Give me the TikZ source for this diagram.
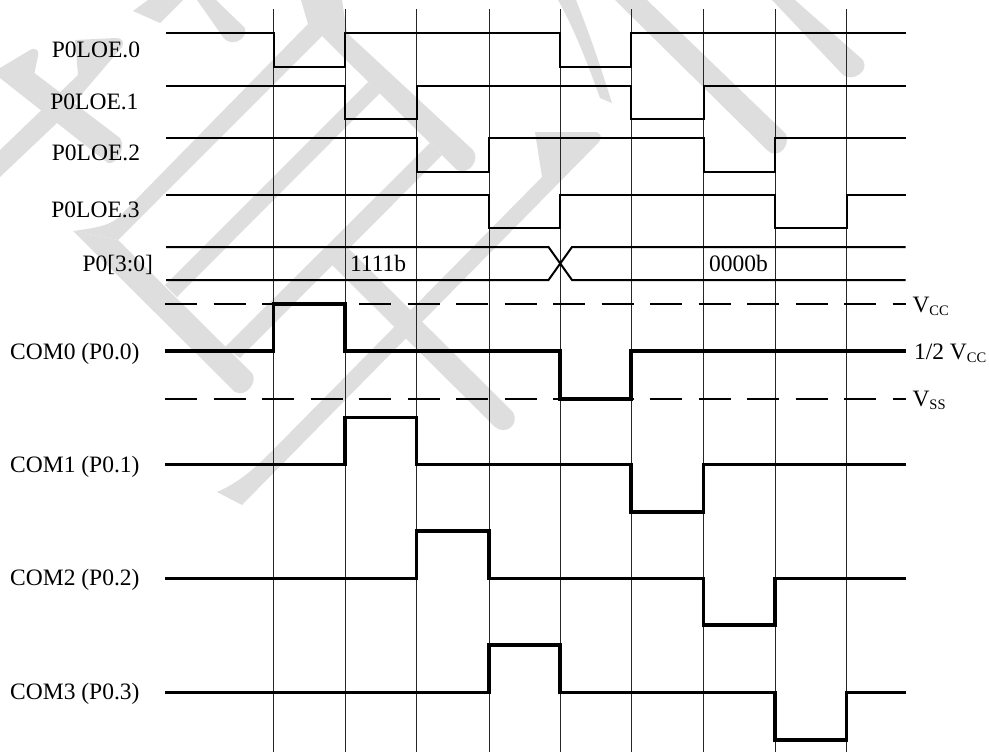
\documentclass[tikz,border=0pt]{standalone}
\usepackage{fontspec}
\setmainfont{Liberation Serif}
\definecolor{wm}{HTML}{DEDEDE}
\tikzset{
  grid line/.style={line width=1pt,black!85},
  logic/.style={line width=2pt,black,line join=miter},
  bus/.style={line width=2pt,black},
  com/.style={line width=3.5pt,black,line join=miter},
  rail/.style={line width=2pt,black,dash pattern=on 32pt off 16.5pt},
  lbl/.style={anchor=base west,inner sep=0pt,outer sep=0pt,font=\fontsize{23.5}{28}\selectfont},
  lblr/.style={anchor=base east,inner sep=0pt,outer sep=0pt,font=\fontsize{23.5}{28}\selectfont},
  mark wm/.style={fill=wm,draw=none}
}
\newcommand{\subs}[1]{\raisebox{-3.2pt}{\fontsize{14.5}{16}\selectfont #1}}
\begin{document}
\begin{tikzpicture}[x=1pt,y=-1pt]
\useasboundingbox (0,0) rectangle (989,753);
% watermark
\fill[mark wm] (0,68) -- (30,50) .. controls (36,47) and (39,50) .. (38,56) -- (34.5,73) -- (120,138) .. controls (126,146) and (118,165) .. (108,163) -- (57,123) -- (0,78) -- cycle;
\fill[mark wm] (75,40) -- (116,38) .. controls (122,38) and (125,42) .. (122,47) -- (57,123) -- (0,177) -- (0,150) -- (78,75) -- cycle;
\fill[mark wm] (133,11) -- (148,0) -- (183,0) -- (160,23) -- cycle;
\fill[mark wm] (197,0) -- (223,37) .. controls (230,48) and (248,40) .. (245,28) -- (216,0) -- cycle;
\fill[mark wm] (73,231) .. controls (95,228) and (108,226) .. (118,218) -- (308,24) -- (301,0) -- (342,0) -- (347,33) -- (473,150) .. controls (481,160) and (468,176) .. (457,170) -- (322,36) -- (118,240) -- cycle;
\fill[mark wm] (73,231) -- (118,240) -- (252,373) .. controls (258,381) and (247,398) .. (235,392) -- cycle;
\fill[mark wm] (368,82) -- (380,93) -- (177,297) -- (165,285) -- cycle;
\fill[mark wm] (430,143) -- (442,155) -- (240,358) -- (225,347) -- cycle;
\fill[mark wm] (332,265) -- (349,249) -- (513,412) .. controls (520,424) and (506,436) .. (495,427) -- cycle;
\fill[mark wm] (217,492) .. controls (240,482) and (255,468) .. (273,450) -- (542,177) -- (535,132) -- (594,132) .. controls (602,132) and (602,138) .. (599,142) -- (242,505) -- cycle;
\fill[mark wm] (558,0) .. controls (575,30) and (590,70) .. (600,98) -- (612,103) .. controls (600,65) and (590,35) .. (576,0) -- cycle;
\fill[mark wm] (615,0) -- (767,150) .. controls (776,160) and (791,148) .. (786,134) -- (647,0) -- cycle;
\fill[mark wm] (772,0) -- (843,75) .. controls (852,82) and (870,72) .. (863,60) -- (795,0) -- cycle;
% grid
\foreach \x in {273.5,345,416.5,489,560,631,703.5,775,846.5}
  \draw[grid line] (\x,9) -- (\x,752);
% logic signals
\draw[logic] (166,33.3) -- (273.5,33.3) -- (273.5,66.5) -- (345,66.5) -- (345,33.3) -- (560,33.3) -- (560,66.5) -- (631,66.5) -- (631,33.3) -- (905.5,33.3);
\draw[logic] (166,85.5) -- (345,85.5) -- (345,118.5) -- (416.5,118.5) -- (416.5,85.5) -- (631,85.5) -- (631,118.5) -- (703.5,118.5) -- (703.5,85.5) -- (905.5,85.5);
\draw[logic] (166,137.5) -- (416.5,137.5) -- (416.5,172) -- (489,172) -- (489,137.5) -- (703.5,137.5) -- (703.5,172) -- (775,172) -- (775,137.5) -- (905.5,137.5);
\draw[logic] (166,195) -- (489,195) -- (489,228) -- (560,228) -- (560,195) -- (775,195) -- (775,228) -- (846.5,228) -- (846.5,195) -- (905.5,195);
% bus
\draw[logic] (166,247) -- (548.5,247) -- (572,280) -- (905.5,280);
\draw[bus] (166,280) -- (548.5,280) -- (572,247) -- (905.5,247);
% rails
\draw[rail] (165,304) -- (905.5,304);
\draw[rail] (165,399) -- (905.5,399);
% COM lines
\draw[com] (165,351) -- (273.5,351) -- (273.5,304) -- (345,304) -- (345,351) -- (560,351) -- (560,399) -- (631,399) -- (631,351) -- (906,351);
\draw[com] (165,464.3) -- (345,464.3) -- (345,417.3) -- (416.5,417.3) -- (416.5,464.3) -- (631,464.3) -- (631,512) -- (703.5,512) -- (703.5,464.3) -- (906,464.3);
\draw[com] (165,578.3) -- (416.5,578.3) -- (416.5,531) -- (489,531) -- (489,578.3) -- (703.5,578.3) -- (703.5,625) -- (775,625) -- (775,578.3) -- (906,578.3);
\draw[com] (165,692.3) -- (489,692.3) -- (489,645) -- (560,645) -- (560,692.3) -- (775,692.3) -- (775,740) -- (846.5,740) -- (846.5,692.3) -- (906,692.3);
% labels
\node[lblr] (l0) at (140,57.3) {P0LOE.0};
\node[lblr] (l1) at (138.5,109) {P0LOE.1};
\node[lblr] (l2) at (140,160.7) {P0LOE.2};
\node[lblr] (l3) at (139.5,217.7) {P0LOE.3};
\node[lblr] (bus) at (153,271) {P0[3:0]};
\node[lbl] (v1) at (350,271) {1111b};
\node[lbl] (v0) at (709,271) {0000b};
\node[lblr] (c0) at (139.5,359) {COM0 (P0.0)};
\node[lblr] (c1) at (139.5,472) {COM1 (P0.1)};
\node[lblr] (c2) at (139.5,585.7) {COM2 (P0.2)};
\node[lblr] (c3) at (139.5,699) {COM3 (P0.3)};
\node[lbl] (vcc) at (912.5,312) {V\subs{CC}};
\node[lbl] (vh) at (914,359) {1/2 V\subs{CC}};
\node[lbl] (vss) at (912.5,406) {V\subs{SS}};
\end{tikzpicture}
\end{document}
